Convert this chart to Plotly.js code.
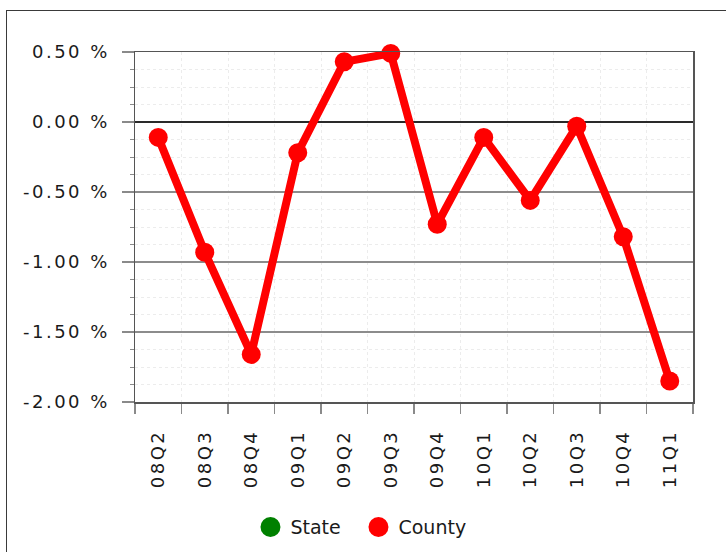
<!DOCTYPE html>
<html>
<head>
<meta charset="utf-8">
<script src="https://cdn.plot.ly/plotly-3.0.1.min.js"></script>
<style>
  html, body { margin: 0; padding: 0; background: #ffffff; overflow: hidden; }
  #frame { position: absolute; left: 6px; top: 10px; width: 900px; height: 800px;
           border: 1.5px solid #3a3a3a; box-sizing: border-box; }
  #chart { position: absolute; left: 0; top: 0; width: 726px; height: 552px; }
  #chart .xtick text, #chart .ytick text { letter-spacing: 2.5px; }
  #chart .legendpoints path.scatterpts { transform: translate(20px, 0px) scale(1.25); }
</style>
</head>
<body>
<div id="frame"></div>
<div id="chart"></div>
<script>
// ---- data ----
const quarters = ['08Q2','08Q3','08Q4','09Q1','09Q2','09Q3','09Q4','10Q1','10Q2','10Q3','10Q4','11Q1'];
const countyValues = [-0.11, -0.93, -1.66, -0.22, 0.43, 0.49, -0.73, -0.11, -0.56, -0.03, -0.82, -1.85];
const stateValues = [null, null, null, null, null, null, null, null, null, null, null, null];
const yTickVals = [0.5, 0, -0.5, -1, -1.5, -2];
const yTickText = ['0.50 %', '0.00 %', '-0.50 %', '-1.00 %', '-1.50 %', '-2.00 %'];
const seriesNames = ['State', 'County'];
const seriesColors = ['#008000', '#ff0000'];

const font = { family: 'DejaVu Sans, Verdana, sans-serif', size: 18, color: '#1a1a1a' };
const legendFont = { family: 'DejaVu Sans, Verdana, sans-serif', size: 19, color: '#1a1a1a' };

const traces = [
  { x: quarters, y: stateValues, type: 'scatter', mode: 'lines+markers', name: seriesNames[0],
    line: { color: seriesColors[0], width: 8 }, marker: { color: seriesColors[0], size: 19 },
    showlegend: false, hoverinfo: 'skip' },
  { x: quarters, y: countyValues, type: 'scatter', mode: 'lines+markers', name: seriesNames[1],
    line: { color: seriesColors[1], width: 8 }, marker: { color: seriesColors[1], size: 19 },
    showlegend: false, cliponaxis: false },
  // legend entries (markers only, as in the reference legend)
  { x: quarters, y: stateValues, type: 'scatter', mode: 'markers', name: seriesNames[0],
    marker: { color: seriesColors[0], size: 16 }, showlegend: true, hoverinfo: 'skip' },
  { x: quarters, y: stateValues, type: 'scatter', mode: 'markers', name: seriesNames[1],
    marker: { color: seriesColors[1], size: 16 }, showlegend: true, hoverinfo: 'skip' }
];

const layout = {
  width: 726, height: 552,
  margin: { l: 135, r: 33, t: 52, b: 150, pad: 0 },
  paper_bgcolor: 'rgba(0,0,0,0)',
  plot_bgcolor: '#ffffff',
  font: font,
  showlegend: true,
  legend: {
    orientation: 'h', xref: 'container', yref: 'container',
    x: 0.345, xanchor: 'left', y: 0.045, yanchor: 'middle',
    entrywidth: 63, entrywidthmode: 'pixels',
    font: legendFont, itemsizing: 'trace', bgcolor: 'rgba(0,0,0,0)', tracegroupgap: 0
  },
  xaxis: {
    type: 'category', tickson: 'boundaries', range: [-0.5, 11.5],
    tickangle: -90, tickfont: font,
    ticks: 'outside', ticklen: 10, tickcolor: '#8a8a8a', tickwidth: 1.3,
    showline: true, mirror: true, linecolor: '#555555', linewidth: 1.5,
    showgrid: true, gridcolor: '#ececec', griddash: 'dot', gridwidth: 1,
    ticklabelstandoff: 19,
    zeroline: false, fixedrange: true
  },
  yaxis: {
    range: [-2, 0.5],
    tickmode: 'array', tickvals: yTickVals, ticktext: yTickText, tickfont: font,
    ticks: 'outside', ticklen: 12, tickcolor: '#8a8a8a', tickwidth: 1.3,
    showline: true, mirror: true, linecolor: '#555555', linewidth: 1.5,
    showgrid: true, gridcolor: '#8c8c8c', gridwidth: 1.2,
    zeroline: true, zerolinecolor: '#2a2a2a', zerolinewidth: 1.5,
    ticklabelstandoff: 8,
    minor: { tickmode: 'linear', tick0: 0, dtick: 0.125, ticks: 'outside', ticklen: 4,
             tickcolor: '#8a8a8a', tickwidth: 1, showgrid: true, gridcolor: '#ececec',
             griddash: 'dot', gridwidth: 1 },
    fixedrange: true
  }
};

Plotly.newPlot('chart', traces, layout, { displayModeBar: false, staticPlot: true });
</script>
</body>
</html>
